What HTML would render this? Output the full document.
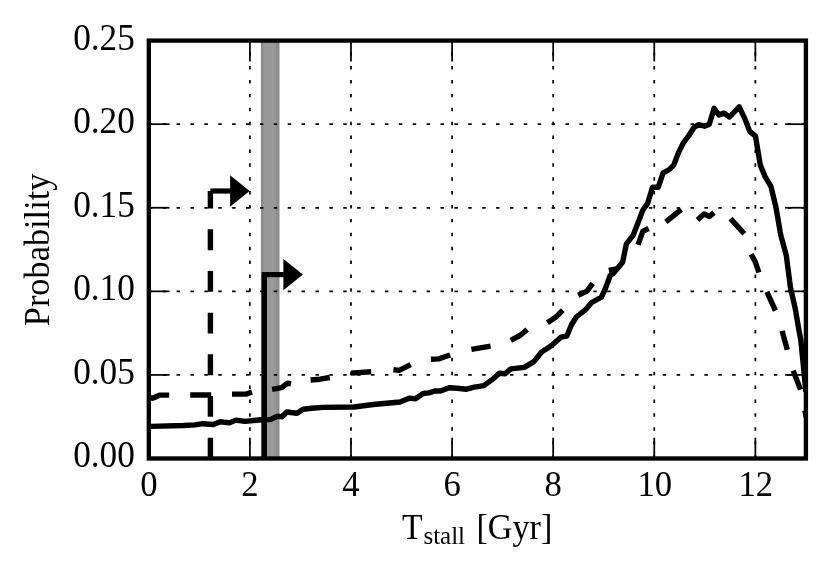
<!DOCTYPE html>
<html><head><meta charset="utf-8"><title>Tstall probability</title>
<style>
html,body{margin:0;padding:0;background:#fff;}
body{width:831px;height:577px;overflow:hidden;font-family:"Liberation Serif",serif;}
svg{display:block;will-change:transform;}
text{font-family:"Liberation Serif",serif;fill:#000;}
</style></head><body>
<svg width="831" height="577" viewBox="0 0 831 577">
<rect x="0" y="0" width="831" height="577" fill="#fff"/>
<defs><clipPath id="ax"><rect x="148.8" y="40.6" width="657.1" height="417.9"/></clipPath></defs>

<g clip-path="url(#ax)">
<rect x="260.9" y="40.6" width="18.6" height="417.9" fill="#8c8c8c"/>
<rect x="263.4" y="40.6" width="12.6" height="417.9" fill="#999999"/>
</g>
<g stroke="#000" stroke-width="1.74" stroke-dasharray="3.47 10.42" fill="none">
<line x1="249.89" y1="458.50" x2="249.89" y2="40.60"/>
<line x1="350.98" y1="458.50" x2="350.98" y2="40.60"/>
<line x1="452.08" y1="458.50" x2="452.08" y2="40.60"/>
<line x1="553.17" y1="458.50" x2="553.17" y2="40.60"/>
<line x1="654.26" y1="458.50" x2="654.26" y2="40.60"/>
<line x1="755.35" y1="458.50" x2="755.35" y2="40.60"/>
<line x1="148.80" y1="374.92" x2="805.90" y2="374.92"/>
<line x1="148.80" y1="291.34" x2="805.90" y2="291.34"/>
<line x1="148.80" y1="207.76" x2="805.90" y2="207.76"/>
<line x1="148.80" y1="124.18" x2="805.90" y2="124.18"/>
</g>
<g stroke="#000" stroke-width="1.74" fill="none">
<line x1="249.89" y1="458.50" x2="249.89" y2="437.70"/>
<line x1="249.89" y1="40.60" x2="249.89" y2="61.40"/>
<line x1="350.98" y1="458.50" x2="350.98" y2="437.70"/>
<line x1="350.98" y1="40.60" x2="350.98" y2="61.40"/>
<line x1="452.08" y1="458.50" x2="452.08" y2="437.70"/>
<line x1="452.08" y1="40.60" x2="452.08" y2="61.40"/>
<line x1="553.17" y1="458.50" x2="553.17" y2="437.70"/>
<line x1="553.17" y1="40.60" x2="553.17" y2="61.40"/>
<line x1="654.26" y1="458.50" x2="654.26" y2="437.70"/>
<line x1="654.26" y1="40.60" x2="654.26" y2="61.40"/>
<line x1="755.35" y1="458.50" x2="755.35" y2="437.70"/>
<line x1="755.35" y1="40.60" x2="755.35" y2="61.40"/>
<line x1="148.80" y1="374.92" x2="169.60" y2="374.92"/>
<line x1="805.90" y1="374.92" x2="785.10" y2="374.92"/>
<line x1="148.80" y1="291.34" x2="169.60" y2="291.34"/>
<line x1="805.90" y1="291.34" x2="785.10" y2="291.34"/>
<line x1="148.80" y1="207.76" x2="169.60" y2="207.76"/>
<line x1="805.90" y1="207.76" x2="785.10" y2="207.76"/>
<line x1="148.80" y1="124.18" x2="169.60" y2="124.18"/>
<line x1="805.90" y1="124.18" x2="785.10" y2="124.18"/>
</g>
<g clip-path="url(#ax)" stroke="#000" stroke-width="5.4" fill="none" stroke-linejoin="round">
<polyline points="148.8,426.5 150.8,426.4 183.5,425.5 195.0,424.9 202.9,423.7 213.5,424.5 220.1,421.7 229.5,422.9 235.8,420.1 245.2,421.4 260.8,419.7 270.3,419.6 277.3,416.2 282.0,416.7 286.8,412.0 297.0,413.3 303.2,409.2 311.6,408.3 323.1,407.4 353.9,407.0 373.2,404.5 386.6,403.2 400.1,402.0 409.7,398.1 415.5,398.7 423.2,393.5 429.0,392.9 434.8,391.0 440.5,391.0 449.2,387.7 457.0,388.3 466.6,389.2 474.3,387.2 483.9,385.7 493.5,378.6 499.3,373.2 505.1,373.8 510.8,368.9 524.3,367.4 533.9,361.6 541.6,352.0 551.3,345.8 560.9,337.2 566.7,336.2 571.5,324.7 576.3,317.0 585.9,309.3 591.7,302.5 601.4,297.2 605.2,289.0 610.1,275.7 613.9,272.8 622.6,262.2 626.4,243.9 633.2,235.2 642.8,210.2 647.6,203.5 652.5,187.2 658.3,187.2 663.1,172.8 668.9,169.9 673.7,165.1 678.5,152.6 683.3,143.0 689.1,135.2 693.9,127.5 698.7,124.7 704.5,126.2 709.3,124.3 714.1,108.3 718.9,115.0 723.8,113.1 729.5,117.0 739.2,106.9 744.9,118.9 749.7,131.4 755.5,136.2 760.3,165.1 765.1,176.6 770.9,186.3 775.9,207.0 780.7,234.9 786.3,255.5 790.4,287.1 795.3,308.9 798.9,330.0 800.8,340.0 803.6,368.0 805.9,392.0"/>
<polyline points="148.8,397.3 152.5,398.2 155.0,397.2 159.5,395.1 169.2,395.1"/>
<polyline points="190.2,395.0 211.2,395.0"/>
<polyline points="232.0,394.1 246.0,394.1 252.0,392.0"/>
<polyline points="272.1,389.3 281.7,387.7 287.5,383.1 291.0,383.9"/>
<polyline points="310.6,380.0 320.0,379.2 329.8,377.5"/>
<polyline points="351.0,373.1 371.2,371.8"/>
<polyline points="393.4,369.8 399.2,370.4 410.7,364.6"/>
<polyline points="430.9,359.3 438.6,358.9 450.2,355.0"/>
<polyline points="471.4,349.3 490.6,346.2"/>
<polyline points="510.8,340.4 520.0,335.5 527.2,329.5"/>
<polyline points="547.4,322.7 556.0,317.0 562.8,310.2"/>
<polyline points="578.2,295.2 587.0,291.1 592.7,283.4"/>
<polyline points="608.8,270.3 616.5,268.8"/>
<polyline points="638.0,244.9 642.8,231.4 648.6,228.5"/>
<polyline points="665.9,221.8 681.3,209.3"/>
<polyline points="697.5,220.0 704.0,213.9 709.4,216.5 714.0,212.7"/>
<polyline points="730.5,218.6 744.3,233.7"/>
<polyline points="751.1,254.3 755.2,261.6 758.9,272.5"/>
<polyline points="766.9,291.9 775.4,310.6"/>
<polyline points="782.1,330.9 787.3,349.9"/>
<polyline points="793.2,370.6 800.5,389.6"/>
<polyline points="804.8,410.5 806.4,417.5"/>
<line x1="210.4" y1="458.5" x2="210.4" y2="191" stroke-dasharray="20.83 20.83"/>
<polyline points="264.3,458.5 264.3,274.6" stroke-linejoin="miter"/>
</g>
<g fill="#000" stroke="none">
<rect x="210.3" y="188.4" width="20.5" height="5.2"/>
<polygon points="230.1,175.3 249.6,191 230.1,206.7"/>
<rect x="261.7" y="272.0" width="22.5" height="5.2"/>
<polygon points="283.4,258.9 302.9,274.6 283.4,290.3"/>
</g>
<rect x="148.8" y="40.6" width="657.1" height="417.9" fill="none" stroke="#000" stroke-width="4.34"/>
<g font-size="34.7px">
<text transform="translate(134.80,467.40) scale(1.015,1.070)" text-anchor="end">0.00</text>
<text transform="translate(134.80,383.82) scale(1.015,1.070)" text-anchor="end">0.05</text>
<text transform="translate(134.80,300.24) scale(1.015,1.070)" text-anchor="end">0.10</text>
<text transform="translate(134.80,216.66) scale(1.015,1.070)" text-anchor="end">0.15</text>
<text transform="translate(134.80,133.08) scale(1.015,1.070)" text-anchor="end">0.20</text>
<text transform="translate(134.80,49.50) scale(1.015,1.070)" text-anchor="end">0.25</text>
<text transform="translate(148.80,496.40) scale(1.000,1.060)" text-anchor="middle">0</text>
<text transform="translate(249.89,496.40) scale(1.000,1.060)" text-anchor="middle">2</text>
<text transform="translate(350.98,496.40) scale(1.000,1.060)" text-anchor="middle">4</text>
<text transform="translate(452.08,496.40) scale(1.000,1.060)" text-anchor="middle">6</text>
<text transform="translate(553.17,496.40) scale(1.000,1.060)" text-anchor="middle">8</text>
<text transform="translate(654.76,496.40) scale(1.000,1.060)" text-anchor="middle">10</text>
<text transform="translate(755.85,496.40) scale(1.000,1.060)" text-anchor="middle">12</text>
<text transform="translate(402.00,538.50) scale(0.970,1.040)">T</text>
<text transform="translate(423.40,544.30) scale(1.000,1.000)" font-size="25.00px">stall</text>
<text transform="translate(476.40,538.70) scale(0.985,1.040)">[Gyr]</text>
<text transform="translate(48.80,249.90) rotate(-90) scale(0.990,1.060)" text-anchor="middle">Probability</text>
</g>
</svg></body></html>
